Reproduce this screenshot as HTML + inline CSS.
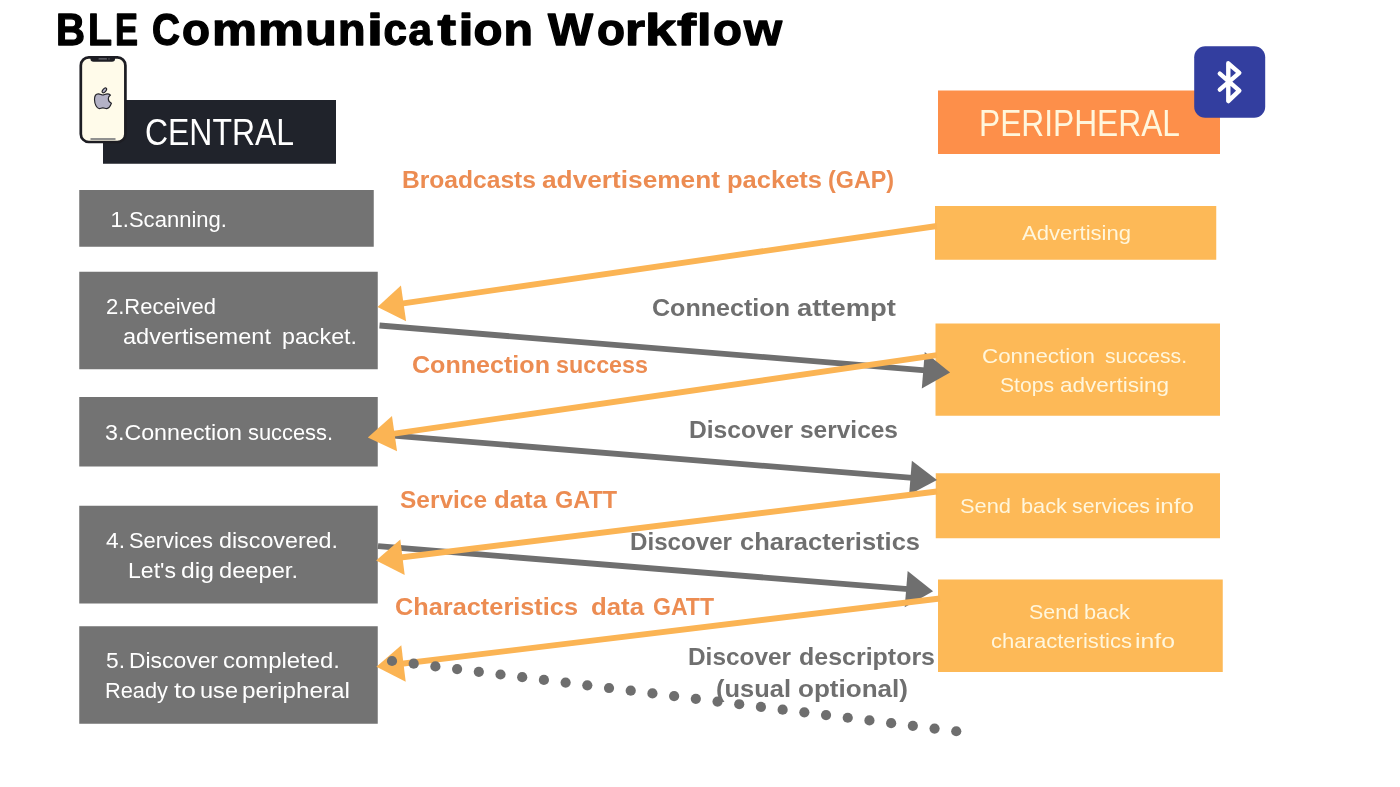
<!DOCTYPE html>
<html><head><meta charset="utf-8">
<style>
html,body{margin:0;padding:0;background:#fff;}
body{width:1400px;height:787px;overflow:hidden;}
svg{display:block;will-change:transform;}
text{font-family:"Liberation Sans",sans-serif;}
</style></head><body>
<svg width="1400" height="787" viewBox="0 0 1400 787">
<rect x="0" y="0" width="1400" height="787" fill="#ffffff"/>

<!-- central header -->
<rect x="103" y="100" width="233" height="63.75" fill="#20232b"/>
<!-- phone -->
<rect x="80.8" y="57.4" width="44.6" height="84.6" rx="8" fill="#fffbea" stroke="#1d1d23" stroke-width="2.7"/>
<path d="M90.5 57.5 H115 V59 Q115 61.8 112 61.8 H93.5 Q90.5 61.8 90.5 59 Z" fill="#1d1d23"/>
<rect x="98.5" y="58.2" width="8.5" height="1.3" rx="0.6" fill="#6c6c74"/>
<circle cx="109" cy="58.9" r="0.7" fill="#6c6c74"/>
<rect x="90.5" y="138.2" width="25" height="1.6" fill="#77777a"/>
<!-- apple -->
<ellipse cx="104.35" cy="90.35" rx="1.55" ry="2.9" transform="rotate(40 104.35 90.4)" fill="#b4b2c6" stroke="#222228" stroke-width="1.1"/>
<path d="M102.8 95.0 C101.5 95.0 100.2 93.9 98.3 93.9 C95.9 93.9 94.5 96.3 94.5 99.6 C94.5 104.0 96.9 108.6 99.3 108.6 C100.6 108.6 101.4 107.9 102.9 107.9 C104.4 107.9 105.2 108.6 106.6 108.6 C108.6 108.6 110.6 105.5 111.4 103.3 C109.6 102.4 108.3 100.9 108.3 98.8 C108.3 97.0 109.3 95.9 110.5 95.1 C109.5 94.2 108.4 93.9 107.2 93.9 C105.3 93.9 104.2 95.0 102.8 95.0 Z" fill="#b4b2c6" stroke="#222228" stroke-width="1.15" stroke-linejoin="round"/>

<!-- peripheral header -->
<rect x="938" y="90.5" width="282" height="63.5" fill="#fd8f4a"/>
<!-- bluetooth -->
<rect x="1194.2" y="46.2" width="71" height="71.6" rx="11" fill="#333e9f"/>
<path d="M1219.8 73.6 L1239.3 90.7 L1228.3 101.1 L1228.3 63.3 L1239.3 72.9 L1219.8 89.6" fill="none" stroke="#ffffff" stroke-width="4.4" stroke-linecap="round" stroke-linejoin="round"/>

<!-- left boxes -->
<g fill="#737373">
<rect x="79.25" y="190" width="294.5" height="56.75"/>
<rect x="79.25" y="271.75" width="298.5" height="97.5"/>
<rect x="79.25" y="397" width="298.5" height="69.5"/>
<rect x="79.25" y="505.75" width="298.5" height="97.75"/>
<rect x="79.25" y="626.25" width="298.5" height="97.5"/>
</g>
<!-- right boxes -->
<g fill="#fdb957">
<rect x="935" y="206" width="281.25" height="53.75"/>
<rect x="935.5" y="323.5" width="284.5" height="92.25"/>
<rect x="935.75" y="473.25" width="284.25" height="65"/>
<rect x="938" y="579.5" width="284.75" height="92.5"/>
</g>

<g>
<line x1="379.50" y1="325.50" x2="925.28" y2="370.36" stroke="#6f6f6f" stroke-width="5.8"/>
<polygon points="950.10,372.40 921.79,388.43 924.79,351.96" fill="#6f6f6f"/>
<line x1="378.00" y1="434.40" x2="912.48" y2="477.90" stroke="#6f6f6f" stroke-width="5.8"/>
<polygon points="937.00,479.90 909.11,494.69 911.87,460.80" fill="#6f6f6f"/>
<line x1="378.00" y1="546.20" x2="908.18" y2="589.23" stroke="#6f6f6f" stroke-width="5.8"/>
<polygon points="933.10,591.25 904.72,607.21 907.66,570.93" fill="#6f6f6f"/>
</g>
<g>
<line x1="937.00" y1="226.00" x2="401.55" y2="303.61" stroke="#fbb454" stroke-width="5.9"/>
<polygon points="377.50,307.10 400.95,285.51 406.11,321.14" fill="#fbb454"/>
<line x1="937.00" y1="355.20" x2="392.54" y2="433.83" stroke="#fbb454" stroke-width="5.9"/>
<polygon points="367.80,437.40 391.98,415.92 397.07,451.16" fill="#fbb454"/>
<line x1="937.00" y1="491.50" x2="400.52" y2="557.50" stroke="#fbb454" stroke-width="5.9"/>
<polygon points="376.10,560.50 400.30,539.39 404.70,575.12" fill="#fbb454"/>
<line x1="940.00" y1="598.50" x2="401.52" y2="663.76" stroke="#fbb454" stroke-width="5.9"/>
<polygon points="376.40,666.80 401.29,645.30 405.71,681.73" fill="#fbb454"/>
</g>
<g fill="#6e6e6e">
<circle cx="392.00" cy="661.00" r="5.1"/><circle cx="413.70" cy="663.70" r="5.1"/><circle cx="435.40" cy="666.40" r="5.1"/><circle cx="457.11" cy="669.11" r="5.1"/><circle cx="478.81" cy="671.81" r="5.1"/>
<circle cx="500.51" cy="674.51" r="5.1"/><circle cx="522.21" cy="677.21" r="5.1"/><circle cx="543.91" cy="679.91" r="5.1"/><circle cx="565.62" cy="682.62" r="5.1"/><circle cx="587.32" cy="685.32" r="5.1"/>
<circle cx="609.02" cy="688.02" r="5.1"/><circle cx="630.72" cy="690.72" r="5.1"/><circle cx="652.42" cy="693.42" r="5.1"/><circle cx="674.12" cy="696.12" r="5.1"/><circle cx="695.83" cy="698.83" r="5.1"/>
<circle cx="717.53" cy="701.53" r="5.1"/><circle cx="739.23" cy="704.23" r="5.1"/><circle cx="760.93" cy="706.93" r="5.1"/><circle cx="782.63" cy="709.63" r="5.1"/><circle cx="804.34" cy="712.34" r="5.1"/>
<circle cx="826.04" cy="715.04" r="5.1"/><circle cx="847.74" cy="717.74" r="5.1"/><circle cx="869.44" cy="720.44" r="5.1"/><circle cx="891.14" cy="723.14" r="5.1"/><circle cx="912.85" cy="725.85" r="5.1"/>
<circle cx="934.55" cy="728.55" r="5.1"/><circle cx="956.25" cy="731.25" r="5.1"/>
</g>
<text x="56.00" y="45.3" font-size="44.5" font-weight="bold" fill="#000000" stroke="#000000" stroke-width="1.3" stroke-linejoin="round" textLength="29.00" lengthAdjust="spacingAndGlyphs" xml:space="preserve">B</text>
<text x="88.00" y="45.3" font-size="44.5" font-weight="bold" fill="#000000" stroke="#000000" stroke-width="1.3" stroke-linejoin="round" textLength="24.00" lengthAdjust="spacingAndGlyphs" xml:space="preserve">L</text>
<text x="115.00" y="45.3" font-size="44.5" font-weight="bold" fill="#000000" stroke="#000000" stroke-width="1.3" stroke-linejoin="round" textLength="23.00" lengthAdjust="spacingAndGlyphs" xml:space="preserve">E</text>
<text x="152.00" y="45.3" font-size="44.5" font-weight="bold" fill="#000000" stroke="#000000" stroke-width="1.3" stroke-linejoin="round" textLength="28.00" lengthAdjust="spacingAndGlyphs" xml:space="preserve">C</text>
<text x="182.00" y="45.3" font-size="44.5" font-weight="bold" fill="#000000" stroke="#000000" stroke-width="1.3" stroke-linejoin="round" textLength="28.00" lengthAdjust="spacingAndGlyphs" xml:space="preserve">o</text>
<text x="212.00" y="45.3" font-size="44.5" font-weight="bold" fill="#000000" stroke="#000000" stroke-width="1.3" stroke-linejoin="round" textLength="45.00" lengthAdjust="spacingAndGlyphs" xml:space="preserve">m</text>
<text x="258.00" y="45.3" font-size="44.5" font-weight="bold" fill="#000000" stroke="#000000" stroke-width="1.3" stroke-linejoin="round" textLength="46.00" lengthAdjust="spacingAndGlyphs" xml:space="preserve">m</text>
<text x="305.00" y="45.3" font-size="44.5" font-weight="bold" fill="#000000" stroke="#000000" stroke-width="1.3" stroke-linejoin="round" textLength="32.00" lengthAdjust="spacingAndGlyphs" xml:space="preserve">u</text>
<text x="338.00" y="45.3" font-size="44.5" font-weight="bold" fill="#000000" stroke="#000000" stroke-width="1.3" stroke-linejoin="round" textLength="27.50" lengthAdjust="spacingAndGlyphs" xml:space="preserve">n</text>
<text x="367.00" y="45.3" font-size="44.5" font-weight="bold" fill="#000000" stroke="#000000" stroke-width="1.3" stroke-linejoin="round" textLength="16.00" lengthAdjust="spacingAndGlyphs" xml:space="preserve">i</text>
<text x="383.50" y="45.3" font-size="44.5" font-weight="bold" fill="#000000" stroke="#000000" stroke-width="1.3" stroke-linejoin="round" textLength="23.50" lengthAdjust="spacingAndGlyphs" xml:space="preserve">c</text>
<text x="408.50" y="45.3" font-size="44.5" font-weight="bold" fill="#000000" stroke="#000000" stroke-width="1.3" stroke-linejoin="round" textLength="23.50" lengthAdjust="spacingAndGlyphs" xml:space="preserve">a</text>
<text x="437.50" y="45.3" font-size="44.5" font-weight="bold" fill="#000000" stroke="#000000" stroke-width="1.3" stroke-linejoin="round" textLength="18.50" lengthAdjust="spacingAndGlyphs" xml:space="preserve">t</text>
<text x="458.50" y="45.3" font-size="44.5" font-weight="bold" fill="#000000" stroke="#000000" stroke-width="1.3" stroke-linejoin="round" textLength="15.00" lengthAdjust="spacingAndGlyphs" xml:space="preserve">i</text>
<text x="473.50" y="45.3" font-size="44.5" font-weight="bold" fill="#000000" stroke="#000000" stroke-width="1.3" stroke-linejoin="round" textLength="29.00" lengthAdjust="spacingAndGlyphs" xml:space="preserve">o</text>
<text x="503.50" y="45.3" font-size="44.5" font-weight="bold" fill="#000000" stroke="#000000" stroke-width="1.3" stroke-linejoin="round" textLength="29.50" lengthAdjust="spacingAndGlyphs" xml:space="preserve">n</text>
<text x="548.00" y="45.3" font-size="44.5" font-weight="bold" fill="#000000" stroke="#000000" stroke-width="1.3" stroke-linejoin="round" textLength="45.00" lengthAdjust="spacingAndGlyphs" xml:space="preserve">W</text>
<text x="597.00" y="45.3" font-size="44.5" font-weight="bold" fill="#000000" stroke="#000000" stroke-width="1.3" stroke-linejoin="round" textLength="28.00" lengthAdjust="spacingAndGlyphs" xml:space="preserve">o</text>
<text x="625.00" y="45.3" font-size="44.5" font-weight="bold" fill="#000000" stroke="#000000" stroke-width="1.3" stroke-linejoin="round" textLength="20.00" lengthAdjust="spacingAndGlyphs" xml:space="preserve">r</text>
<text x="645.00" y="45.3" font-size="44.5" font-weight="bold" fill="#000000" stroke="#000000" stroke-width="1.3" stroke-linejoin="round" textLength="31.00" lengthAdjust="spacingAndGlyphs" xml:space="preserve">k</text>
<text x="677.00" y="45.3" font-size="44.5" font-weight="bold" fill="#000000" stroke="#000000" stroke-width="1.3" stroke-linejoin="round" textLength="19.00" lengthAdjust="spacingAndGlyphs" xml:space="preserve">f</text>
<text x="697.00" y="45.3" font-size="44.5" font-weight="bold" fill="#000000" stroke="#000000" stroke-width="1.3" stroke-linejoin="round" textLength="14.50" lengthAdjust="spacingAndGlyphs" xml:space="preserve">l</text>
<text x="713.00" y="45.3" font-size="44.5" font-weight="bold" fill="#000000" stroke="#000000" stroke-width="1.3" stroke-linejoin="round" textLength="29.00" lengthAdjust="spacingAndGlyphs" xml:space="preserve">o</text>
<text x="744.00" y="45.3" font-size="44.5" font-weight="bold" fill="#000000" stroke="#000000" stroke-width="1.3" stroke-linejoin="round" textLength="38.00" lengthAdjust="spacingAndGlyphs" xml:space="preserve">w</text>
<text x="145.00" y="145" font-size="36.3" fill="#ffffff" textLength="149.00" lengthAdjust="spacingAndGlyphs" xml:space="preserve">CENTRAL</text>
<text x="979.00" y="136" font-size="36.4" fill="#fff6dc" textLength="201.00" lengthAdjust="spacingAndGlyphs" xml:space="preserve">PERIPHERAL</text>
<text x="402.00" y="187.5" font-size="24.4" font-weight="bold" fill="#ec8c52" textLength="134.00" lengthAdjust="spacingAndGlyphs" xml:space="preserve">Broadcasts</text>
<text x="542.00" y="187.5" font-size="24.4" font-weight="bold" fill="#ec8c52" textLength="178.00" lengthAdjust="spacingAndGlyphs" xml:space="preserve">advertisement</text>
<text x="727.00" y="187.5" font-size="24.4" font-weight="bold" fill="#ec8c52" textLength="95.00" lengthAdjust="spacingAndGlyphs" xml:space="preserve">packets</text>
<text x="828.00" y="187.5" font-size="24.4" font-weight="bold" fill="#ec8c52" textLength="66.00" lengthAdjust="spacingAndGlyphs" xml:space="preserve">(GAP)</text>
<text x="110.50" y="227.25" font-size="22.3" fill="#ffffff" textLength="116.50" lengthAdjust="spacingAndGlyphs" xml:space="preserve">1.Scanning.</text>
<text x="106.00" y="313.6" font-size="22.3" fill="#ffffff" textLength="110.00" lengthAdjust="spacingAndGlyphs" xml:space="preserve">2.Received</text>
<text x="123.00" y="343.6" font-size="22.3" fill="#ffffff" textLength="148.00" lengthAdjust="spacingAndGlyphs" xml:space="preserve">advertisement</text>
<text x="282.00" y="343.6" font-size="22.3" fill="#ffffff" textLength="75.00" lengthAdjust="spacingAndGlyphs" xml:space="preserve">packet.</text>
<text x="105.00" y="440" font-size="22.3" fill="#ffffff" textLength="137.00" lengthAdjust="spacingAndGlyphs" xml:space="preserve">3.Connection</text>
<text x="248.00" y="440" font-size="22.3" fill="#ffffff" textLength="85.00" lengthAdjust="spacingAndGlyphs" xml:space="preserve">success.</text>
<text x="106.00" y="547.9" font-size="22.3" fill="#ffffff" textLength="19.00" lengthAdjust="spacingAndGlyphs" xml:space="preserve">4.</text>
<text x="129.00" y="547.9" font-size="22.3" fill="#ffffff" textLength="84.00" lengthAdjust="spacingAndGlyphs" xml:space="preserve">Services</text>
<text x="219.00" y="547.9" font-size="22.3" fill="#ffffff" textLength="119.00" lengthAdjust="spacingAndGlyphs" xml:space="preserve">discovered.</text>
<text x="128.00" y="577.9" font-size="22.3" fill="#ffffff" textLength="48.00" lengthAdjust="spacingAndGlyphs" xml:space="preserve">Let&#39;s</text>
<text x="181.00" y="577.9" font-size="22.3" fill="#ffffff" textLength="33.00" lengthAdjust="spacingAndGlyphs" xml:space="preserve">dig</text>
<text x="219.00" y="577.9" font-size="22.3" fill="#ffffff" textLength="79.00" lengthAdjust="spacingAndGlyphs" xml:space="preserve">deeper.</text>
<text x="106.00" y="668.3" font-size="22.3" fill="#ffffff" textLength="19.00" lengthAdjust="spacingAndGlyphs" xml:space="preserve">5.</text>
<text x="129.00" y="668.3" font-size="22.3" fill="#ffffff" textLength="89.00" lengthAdjust="spacingAndGlyphs" xml:space="preserve">Discover</text>
<text x="223.00" y="668.3" font-size="22.3" fill="#ffffff" textLength="117.00" lengthAdjust="spacingAndGlyphs" xml:space="preserve">completed.</text>
<text x="105.00" y="697.9" font-size="22.3" fill="#ffffff" textLength="63.00" lengthAdjust="spacingAndGlyphs" xml:space="preserve">Ready</text>
<text x="174.00" y="697.9" font-size="22.3" fill="#ffffff" textLength="22.00" lengthAdjust="spacingAndGlyphs" xml:space="preserve">to</text>
<text x="200.00" y="697.9" font-size="22.3" fill="#ffffff" textLength="38.00" lengthAdjust="spacingAndGlyphs" xml:space="preserve">use</text>
<text x="242.00" y="697.9" font-size="22.3" fill="#ffffff" textLength="108.00" lengthAdjust="spacingAndGlyphs" xml:space="preserve">peripheral</text>
<text x="1022.00" y="240.3" font-size="20.6" fill="#fff6dc" textLength="109.00" lengthAdjust="spacingAndGlyphs" xml:space="preserve">Advertising</text>
<text x="982.00" y="362.8" font-size="20.6" fill="#fff6dc" textLength="113.00" lengthAdjust="spacingAndGlyphs" xml:space="preserve">Connection</text>
<text x="1105.00" y="362.8" font-size="20.6" fill="#fff6dc" textLength="82.00" lengthAdjust="spacingAndGlyphs" xml:space="preserve">success.</text>
<text x="1000.00" y="392.1" font-size="20.6" fill="#fff6dc" textLength="54.00" lengthAdjust="spacingAndGlyphs" xml:space="preserve">Stops</text>
<text x="1060.00" y="392.1" font-size="20.6" fill="#fff6dc" textLength="109.00" lengthAdjust="spacingAndGlyphs" xml:space="preserve">advertising</text>
<text x="960.00" y="513.2" font-size="20.8" fill="#fff6dc" textLength="51.00" lengthAdjust="spacingAndGlyphs" xml:space="preserve">Send</text>
<text x="1021.00" y="513.2" font-size="20.8" fill="#fff6dc" textLength="46.00" lengthAdjust="spacingAndGlyphs" xml:space="preserve">back</text>
<text x="1072.00" y="513.2" font-size="20.8" fill="#fff6dc" textLength="78.00" lengthAdjust="spacingAndGlyphs" xml:space="preserve">services</text>
<text x="1155.00" y="513.2" font-size="20.8" fill="#fff6dc" textLength="39.00" lengthAdjust="spacingAndGlyphs" xml:space="preserve">info</text>
<text x="1029.00" y="619.3" font-size="20.8" fill="#fff6dc" textLength="50.00" lengthAdjust="spacingAndGlyphs" xml:space="preserve">Send</text>
<text x="1084.00" y="619.3" font-size="20.8" fill="#fff6dc" textLength="46.00" lengthAdjust="spacingAndGlyphs" xml:space="preserve">back</text>
<text x="991.00" y="648.2" font-size="20.8" fill="#fff6dc" textLength="141.00" lengthAdjust="spacingAndGlyphs" xml:space="preserve">characteristics</text>
<text x="1135.00" y="648.2" font-size="20.8" fill="#fff6dc" textLength="40.00" lengthAdjust="spacingAndGlyphs" xml:space="preserve">info</text>
<text x="652.00" y="316" font-size="24.6" font-weight="bold" fill="#6f6f6f" textLength="138.00" lengthAdjust="spacingAndGlyphs" xml:space="preserve">Connection</text>
<text x="797.00" y="316" font-size="24.6" font-weight="bold" fill="#6f6f6f" textLength="99.00" lengthAdjust="spacingAndGlyphs" xml:space="preserve">attempt</text>
<text x="412.00" y="372.6" font-size="24.4" font-weight="bold" fill="#ec8c52" textLength="138.00" lengthAdjust="spacingAndGlyphs" xml:space="preserve">Connection</text>
<text x="556.00" y="372.6" font-size="24.4" font-weight="bold" fill="#ec8c52" textLength="92.00" lengthAdjust="spacingAndGlyphs" xml:space="preserve">success</text>
<text x="689.00" y="437.9" font-size="24.2" font-weight="bold" fill="#6f6f6f" textLength="104.00" lengthAdjust="spacingAndGlyphs" xml:space="preserve">Discover</text>
<text x="800.00" y="437.9" font-size="24.2" font-weight="bold" fill="#6f6f6f" textLength="98.00" lengthAdjust="spacingAndGlyphs" xml:space="preserve">services</text>
<text x="400.00" y="508.25" font-size="24" font-weight="bold" fill="#ec8c52" textLength="87.00" lengthAdjust="spacingAndGlyphs" xml:space="preserve">Service</text>
<text x="494.00" y="508.25" font-size="24" font-weight="bold" fill="#ec8c52" textLength="53.00" lengthAdjust="spacingAndGlyphs" xml:space="preserve">data</text>
<text x="555.00" y="508.25" font-size="24" font-weight="bold" fill="#ec8c52" textLength="62.00" lengthAdjust="spacingAndGlyphs" xml:space="preserve">GATT</text>
<text x="630.00" y="550" font-size="24" font-weight="bold" fill="#6f6f6f" textLength="102.00" lengthAdjust="spacingAndGlyphs" xml:space="preserve">Discover</text>
<text x="740.00" y="550" font-size="24" font-weight="bold" fill="#6f6f6f" textLength="180.00" lengthAdjust="spacingAndGlyphs" xml:space="preserve">characteristics</text>
<text x="395.00" y="615.2" font-size="24" font-weight="bold" fill="#ec8c52" textLength="183.00" lengthAdjust="spacingAndGlyphs" xml:space="preserve">Characteristics</text>
<text x="591.00" y="615.2" font-size="24" font-weight="bold" fill="#ec8c52" textLength="53.00" lengthAdjust="spacingAndGlyphs" xml:space="preserve">data</text>
<text x="653.00" y="615.2" font-size="24" font-weight="bold" fill="#ec8c52" textLength="61.00" lengthAdjust="spacingAndGlyphs" xml:space="preserve">GATT</text>
<text x="688.00" y="664.7" font-size="24" font-weight="bold" fill="#6f6f6f" textLength="103.00" lengthAdjust="spacingAndGlyphs" xml:space="preserve">Discover</text>
<text x="799.00" y="664.7" font-size="24" font-weight="bold" fill="#6f6f6f" textLength="136.00" lengthAdjust="spacingAndGlyphs" xml:space="preserve">descriptors</text>
<text x="716.00" y="696.6" font-size="24" font-weight="bold" fill="#6f6f6f" textLength="75.00" lengthAdjust="spacingAndGlyphs" xml:space="preserve">(usual</text>
<text x="798.00" y="696.6" font-size="24" font-weight="bold" fill="#6f6f6f" textLength="110.00" lengthAdjust="spacingAndGlyphs" xml:space="preserve">optional)</text>
</svg>
</body></html>
